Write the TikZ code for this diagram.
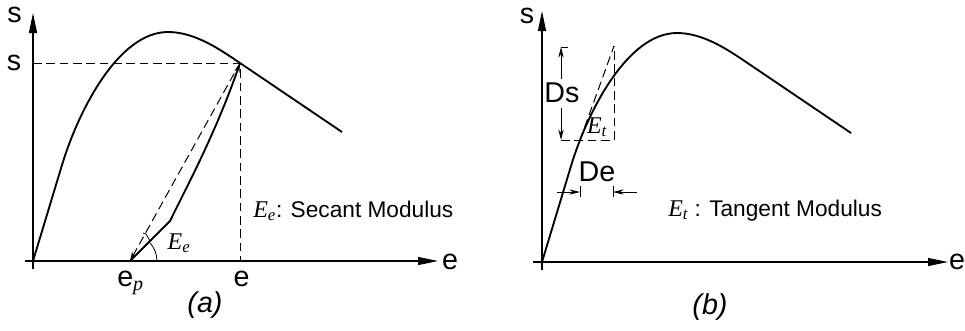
\documentclass[tikz,border=0pt]{standalone}
\usepackage{fontspec}
\setmainfont{Liberation Sans}
\newfontfamily\tms{Liberation Serif}
\usetikzlibrary{arrows.meta}
\newcommand{\modE}[1]{{\tms\itshape\fontsize{18}{20}\selectfont E\textsubscript{#1}}}
\tikzset{
  axis/.style={line width=0.9pt,-{Triangle[length=15pt,width=6pt]}},
  curve/.style={line width=1.4pt,line join=round},
  guide/.style={line width=0.75pt,dash pattern=on 6.5pt off 3.5pt},
  dimline/.style={line width=0.75pt,-{Stealth[length=8pt,width=4pt]}},
  big/.style={font=\fontsize{21.5}{24}\selectfont,inner sep=0pt},
  note/.style={font=\fontsize{17}{19}\selectfont,inner sep=0pt},
}

\begin{document}
\begin{tikzpicture}[x=0.75pt,y=-0.75pt]
\useasboundingbox (0,0) rectangle (965,330);
% (a) secant modulus
\draw[axis] (33,269) -- (33,13);
\draw[axis] (25,261) -- (438,261);
\node[big] (sa) at (14.5,15) {s};
\node[big] (ea) at (450,262) {e};
\coordinate (peak) at (240,63);
\coordinate (ep) at (130,261);
\coordinate (epeak) at (240,261);
\coordinate (speak) at (33,63);
\draw[guide] (speak) -- (peak) -- (epeak);
\node[big,anchor=base] (sig) at (14,70) {s};
\node[big,anchor=base] (eps) at (241.5,286) {e};
\node[big,anchor=base west] (epl) at (117,286) {e\textsubscript{\tms\itshape p}};
\draw[guide,{Stealth[length=7pt,width=4pt]}-] (ep) -- (peak);
\draw[curve,-{Stealth[length=7pt,width=4pt]}] (ep) -- (170,221)
  .. controls (185,190) and (215,135) .. (peak);
\draw[line width=0.6pt] (ep) ++(20.25pt,0) arc[start angle=0,end angle=44,radius=20.25pt];
\draw[line width=0.6pt] (143,233) -- (146,234) -- (150,241);
\node[note] (Ee) at (179,243) {\modE{e}};
\node[note,anchor=base west] (sec) at (253,217) {\modE{e}: Secant Modulus};
\node[big] (capa) at (205,305) {\itshape (a)};
% (b) tangent modulus
\draw[axis] (542,270) -- (542,11);
\draw[axis] (533,262) -- (948,262);
\node[big] (sb) at (527,16) {s};
\node[big] (eb) at (957,262) {e};
\foreach \dx/\dy in {0/0,509/1}
  \draw[curve,shift={(\dx,\dy)}] (33,261) -- (62,165)
    .. controls (78,112) and (118,32) .. (168,32)
    .. controls (195,32) and (220,49.5) .. (240,63) -- (342,132);
\coordinate (tp) at (580,140);
\coordinate (tq) at (614,46);
\coordinate (bl) at (561,140);
\coordinate (br) at (614,140);
\draw[guide] (tp) -- (tq);
\draw[guide] (bl) -- (br) -- (tq);
\node[big] (ds) at (562,93) {Ds};
\draw[dimline] (561,79) -- (561,47);
\draw[dimline] (561,108) -- (bl);
\draw[line width=0.75pt] (561,47) -- (568,47);
\node[big] (de) at (597,172) {De};
\draw[dimline] (557,192) -- (580,192);
\draw[dimline] (637,192) -- (613,192);
\draw[line width=0.75pt] (580,186) -- (580,197);
\draw[line width=0.75pt] (613,186) -- (613,197);
\node[note] (Et) at (597,127) {\modE{t}};
\node[note,anchor=base west] (tan) at (668,216) {\modE{t} : Tangent Modulus};
\node[big] (capb) at (710,307) {\itshape (b)};
\end{tikzpicture}
\end{document}
